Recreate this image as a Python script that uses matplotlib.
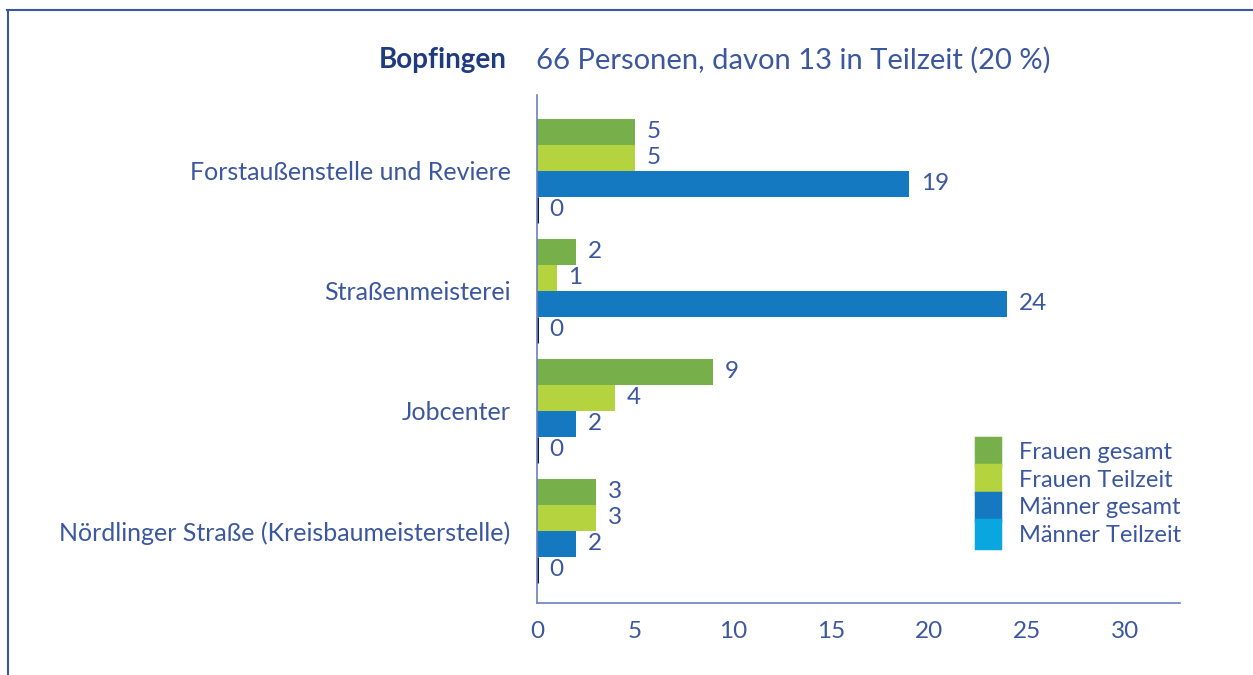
import matplotlib
matplotlib.use("Agg")
import matplotlib.pyplot as plt
import numpy as np
from matplotlib.patches import Patch
from matplotlib.lines import Line2D

categories = ["Forstaußenstelle und Reviere", "Straßenmeisterei", "Jobcenter",
              "Nördlinger Straße (Kreisbaumeisterstelle)"]
series_names = ["Frauen gesamt", "Frauen Teilzeit", "Männer gesamt", "Männer Teilzeit"]
frauen_gesamt = [5, 2, 9, 3]
frauen_teilzeit = [5, 1, 4, 3]
maenner_gesamt = [19, 24, 2, 2]
maenner_teilzeit = [0, 0, 0, 0]
xticks = [0, 5, 10, 15, 20, 25, 30]
title_bold = "Bopfingen"
title_rest = "66 Personen, davon 13 in Teilzeit (20 %)"

colors = ["#77B04A", "#B5D33E", "#1479C0", "#0AA6DF"]
text_color = "#3B57A0"
title_color = "#1E3A80"
spine_color = "#6A80BC"

plt.rcParams['font.family'] = ['Lato', 'DejaVu Sans']

fig = plt.figure(figsize=(12.53, 6.75), dpi=100)
ax = fig.add_axes([537/1253, 1-603/675, (1180-537)/1253, (603-95)/675])

series = [frauen_gesamt, frauen_teilzeit, maenner_gesamt, maenner_teilzeit]
bar_h = 26/120
y = np.arange(len(categories))
for i, (vals, col) in enumerate(zip(series, colors)):
    pos = y + (i - 1.5) * bar_h
    ax.barh(pos, vals, height=bar_h, color=col, edgecolor='none')
    for p, v in zip(pos, vals):
        if v == 0:
            ax.barh(p, 0, height=bar_h, left=0, color='none', edgecolor='#15172a', linewidth=2.2)
        ax.text(v + 0.6, p, str(v), va='center', ha='left', fontsize=17.5,
                color=text_color)

ax.set_xlim(0, 32.8)
ax.set_ylim(3.6, -0.63)
ax.set_yticks(y)
ax.set_yticklabels(categories, fontsize=18, color=text_color)
ax.set_xticks(xticks)
ax.set_xticklabels([str(t) for t in xticks], fontsize=17.5, color=text_color)
ax.tick_params(axis='both', length=0)
ax.tick_params(axis='x', pad=13)
ax.tick_params(axis='y', pad=19)
for s in ['top', 'right']:
    ax.spines[s].set_visible(False)
for s in ['left', 'bottom']:
    ax.spines[s].set_color(spine_color)
    ax.spines[s].set_linewidth(1.2)

handles = [Patch(facecolor=c, edgecolor=c, linewidth=2.5) for c in colors]
leg = ax.legend(handles, series_names, loc='upper left', bbox_to_anchor=(0.683, 0.325),
                frameon=False, fontsize=17, handlelength=1.0, handleheight=1.41,
                labelspacing=0.0, handletextpad=0.8, borderpad=0, borderaxespad=0)
for t in leg.get_texts():
    t.set_color(text_color)

fig.text(507/1253, 1-60/675, title_bold, ha='right', va='center', fontsize=20,
         fontweight='bold', color=title_color)
fig.text(536/1253, 1-60/675, title_rest, ha='left', va='center', fontsize=21,
         color=text_color)

# outer frame lines (top and left)
fig.add_artist(Line2D([7/1253, 1], [1-9.5/675, 1-9.5/675], transform=fig.transFigure,
                      color='#3B57A0', linewidth=1.5))
fig.add_artist(Line2D([7.5/1253, 7.5/1253], [1-9.5/675, 0], transform=fig.transFigure,
                      color='#3B57A0', linewidth=1.5))

fig.savefig("out.png", dpi=100)
